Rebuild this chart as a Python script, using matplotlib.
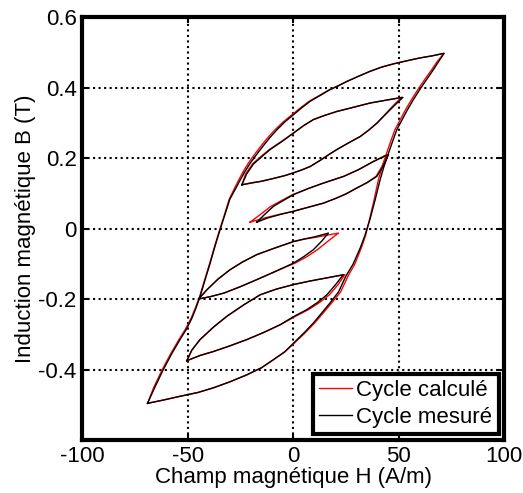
import numpy as np
import matplotlib as mpl
import matplotlib.pyplot as plt

mpl.rcParams['font.family'] = ['Liberation Sans', 'DejaVu Sans']
mpl.rcParams['axes.unicode_minus'] = False

# ---- measured cycle (H in A/m, B in T) ----
# major loop, ascending branch
maj_up_H = [-69, -61, -53.6, -45, -37.8, -30, -21.9, -15, -9.3, -4, 0.2, 5, 9.6, 13.5, 17.5, 21.5, 25,
            28.5, 31.8, 34, 36.5, 38.8, 41.2, 43, 45.2, 47, 49.1, 51.5, 53.9, 57, 60.2, 63.4, 66.5, 69, 71.5]
maj_up_B = [-0.496, -0.486, -0.476, -0.465, -0.452, -0.435, -0.415, -0.395, -0.372, -0.35, -0.325, -0.297,
            -0.268, -0.24, -0.211, -0.18, -0.135, -0.1, -0.055, -0.02, 0.028, 0.08, 0.138, 0.175, 0.214,
            0.245, 0.28, 0.307, 0.334, 0.366, 0.396, 0.424, 0.451, 0.474, 0.497]
# major loop, descending branch
maj_dn_H = [71.5, 66, 60.2, 54, 47.5, 42, 36.5, 31, 25.4, 21.5, 17.5, 13, 8.1, 4, 0.2, -4, -7.7, -11,
            -14.1, -17.3, -20.4, -23, -25.5, -28, -30, -32.3, -34.6, -37, -39.3, -41.7, -44.1, -46, -48,
            -50.5, -53.6, -57.5, -61.5, -65.5, -69]
maj_dn_B = [0.497, 0.49, 0.484, 0.476, 0.467, 0.458, 0.446, 0.432, 0.417, 0.405, 0.394, 0.378, 0.361,
            0.342, 0.323, 0.302, 0.28, 0.258, 0.235, 0.21, 0.185, 0.16, 0.133, 0.105, 0.083, 0.04, -0.003,
            -0.05, -0.098, -0.145, -0.193, -0.225, -0.255, -0.285, -0.315, -0.355, -0.4, -0.45, -0.496]

# minor loops (lower branch up to the tip, then upper branch back)
loopA_H = [-24.3, -20, -15, -9.3, -4, 0.2, 4, 8.1, 13, 17, 20.7, 26, 31.8, 36, 39.7, 43.5, 47.5, 52,
           44, 36.5, 28, 20.7, 15, 9.6, 5, 0.2, -5, -10.9, -15, -18.8, -22, -24.3]
loopA_B = [0.124, 0.129, 0.134, 0.142, 0.15, 0.158, 0.166, 0.176, 0.194, 0.21, 0.224, 0.242, 0.261, 0.28,
           0.299, 0.322, 0.346, 0.372, 0.364, 0.356, 0.343, 0.332, 0.321, 0.309, 0.292, 0.271, 0.248,
           0.224, 0.203, 0.183, 0.155, 0.124]
loopB_H = [-17.2, -12, -6, 0.2, 7, 14.4, 20, 25, 30.2, 35, 39.7, 42.5, 45.2,
           38, 31, 24, 14.4, 7, 0.2, -4.5, -9.3, -13.5, -17.2]
loopB_B = [0.018, 0.03, 0.04, 0.049, 0.06, 0.072, 0.085, 0.098, 0.115, 0.13, 0.148, 0.175, 0.21,
           0.19, 0.167, 0.148, 0.129, 0.113, 0.096, 0.08, 0.063, 0.04, 0.018]
loopC_H = [-44.8, -39, -32.7, -25, -17.2, -8.5, 0.2, 5, 9.6, 13.5, 16.7,
           10, 5, 0.2, -8.5, -17.2, -24, -29.9, -35.5, -40.9, -44.8]
loopC_B = [-0.2, -0.193, -0.183, -0.165, -0.145, -0.122, -0.098, -0.08, -0.06, -0.036, -0.013,
           -0.024, -0.03, -0.037, -0.055, -0.074, -0.095, -0.117, -0.143, -0.174, -0.2]
loopD_H = [-50.4, -44, -37.8, -30, -21.9, -14, -6.2, 0.2, 6.5, 11.5, 16, 20, 23.8,
           16, 8, 0.2, -8, -15.6, -23, -31.4, -37.8, -44.1, -48, -50.4]
loopD_B = [-0.375, -0.36, -0.349, -0.333, -0.315, -0.295, -0.273, -0.25, -0.23, -0.21, -0.188, -0.16, -0.131,
           -0.14, -0.149, -0.159, -0.172, -0.188, -0.215, -0.249, -0.28, -0.315, -0.345, -0.375]

# ---- calculated cycle: H values where it departs from the measured one ----
calc_maj_up_H = [-69, -61, -53.6, -45, -37.8, -30, -21.9, -15, -9.3, -4, 0.6, 5.5, 10.2, 14.2, 18.3, 22.5, 26,
                 29.3, 32.3, 34.3, 36.3, 38.3, 40.4, 42.2, 44.3, 46.1, 48.2, 50.6, 53, 56.1, 59.3, 62.5, 65.7, 68.3, 71.5]
calc_maj_dn_H = [71.5, 66, 60.2, 54, 47.5, 42, 36.5, 31, 25.4, 21.3, 17.2, 12.6, 7.6, 3.4, -0.5, -4.8, -8.6, -12,
                 -15.1, -18.3, -21.3, -23.8, -26.2, -28.5, -30.3, -32.5, -34.8, -37.2, -39.5, -41.9, -44.3, -46.3, -48.4,
                 -51, -54.1, -58, -62, -66, -69]
calc_loopA_H = [-24.3, -20, -15, -9.3, -4, 0.2, 4, 8.1, 13, 17, 20.7, 26, 31.8, 36, 39.7, 43.3, 47, 51.3,
                44, 36.5, 28, 20.7, 15, 9.6, 5, 0.2, -5.3, -11.3, -15.5, -19.3, -22.5, -24.3]
calc_loopB_H = [-20.4, -13.5, -6.5, 0.2, 7, 14.4, 20, 25, 30.2, 35, 39.3, 42, 44.5,
                38, 31, 24, 14.4, 7, -0.3, -5.3, -10.5, -15.5, -20.4]
calc_loopC_H = [-44.8, -39, -32.7, -25, -17.2, -8.5, 1, 6.5, 11.5, 16.5, 21.5,
                11.5, 5.5, 0.2, -8.5, -17.2, -24, -29.9, -35.5, -40.9, -44.8]
calc_loopD_H = [-50.4, -44, -37.8, -30, -21.9, -14, -6, 0.8, 7.3, 12.5, 17.2, 21.2, 24.5,
                16, 8, 0.2, -8, -15.6, -23, -31.4, -37.8, -44.1, -48, -50.4]

fig = plt.figure(figsize=(5.23, 4.93), dpi=100)
ax = fig.add_axes([0.157, 0.1075, 0.807, 0.858])

lw = 1.0
ax.plot(calc_maj_up_H + calc_maj_dn_H, maj_up_B + maj_dn_B, color='red', lw=lw, label='Cycle calculé')
ax.plot(calc_loopA_H, loopA_B, color='red', lw=lw)
ax.plot(calc_loopB_H, loopB_B, color='red', lw=lw)
ax.plot(calc_loopC_H, loopC_B, color='red', lw=lw)
ax.plot(calc_loopD_H, loopD_B, color='red', lw=lw)

ax.plot(maj_up_H + maj_dn_H, maj_up_B + maj_dn_B, color='black', lw=lw, label='Cycle mesuré')
ax.plot(loopA_H, loopA_B, color='black', lw=lw)
ax.plot(loopB_H, loopB_B, color='black', lw=lw)
ax.plot(loopC_H, loopC_B, color='black', lw=lw)
ax.plot(loopD_H, loopD_B, color='black', lw=lw)

ax.set_xlim(-100, 100)
ax.set_ylim(-0.6, 0.6)
ax.set_xticks([-100, -50, 0, 50, 100])
ax.set_xticklabels(['-100', '-50', '0', '50', '100'])
ax.set_yticks([-0.4, -0.2, 0, 0.2, 0.4, 0.6])
ax.set_yticklabels(['-0.4', '-0.2', '0', '0.2', '0.4', '0.6'])
ax.grid(True, color='black', linestyle=':', linewidth=1.5)
ax.tick_params(direction='in', labelsize=16, length=4, width=1.5, top=True, right=True, pad=4)
for s in ax.spines.values():
    s.set_linewidth(3)

ax.set_xlabel('Champ magnétique H (A/m)', fontsize=16, labelpad=0)
ax.set_ylabel('Induction magnétique B (T)', fontsize=16, labelpad=2)

leg = ax.legend(loc='lower right', fontsize=16, fancybox=False, framealpha=1,
                edgecolor='black', handlelength=1.45, handletextpad=0.2,
                borderaxespad=0.25, borderpad=0.3, labelspacing=0.25)
leg.get_frame().set_linewidth(3)

fig.savefig('out.png', dpi=100)
